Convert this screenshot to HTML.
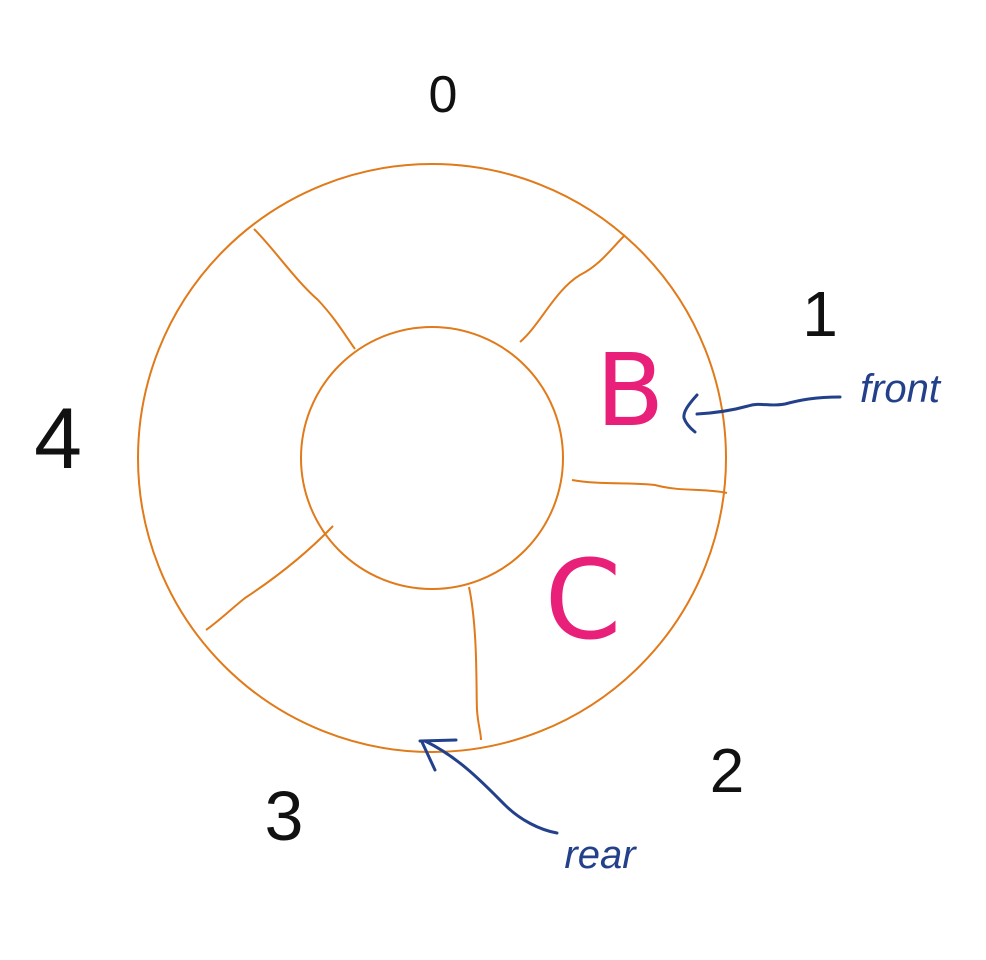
<!DOCTYPE html>
<html>
<head>
<meta charset="utf-8">
<style>
  html,body{margin:0;padding:0;background:#fff;}
  svg{display:block;}
  .num{font-family:"Liberation Sans",sans-serif;font-weight:300;fill:#111;}
  .hand{font-family:"Liberation Sans",sans-serif;}
</style>
</head>
<body>
<svg width="986" height="960" viewBox="0 0 986 960" xmlns="http://www.w3.org/2000/svg">
  <g fill="none" stroke="#e07a1a" stroke-width="2">
    <circle cx="432" cy="458" r="294"/>
    <circle cx="432" cy="458" r="131"/>
    <path d="M254 229 C275 250 295 280 318 300 C335 318 345 335 355 349"/>
    <path d="M625 235 C610 250 600 265 580 275 C555 290 540 325 520 342"/>
    <path d="M572 480 C600 485 630 482 655 485 C680 492 705 488 727 493"/>
    <path d="M469 587 C478 630 476 690 477 710 C478 725 481 733 481 740"/>
    <path d="M333 526 C310 550 280 575 245 598 C230 610 220 620 206 630"/>
  </g>
  <text class="num" x="443" y="112" font-size="52" text-anchor="middle">0</text>
  <text class="num" x="820" y="336" font-size="64" text-anchor="middle">1</text>
  <text class="num" x="727" y="792" font-size="62" text-anchor="middle">2</text>
  <text class="num" x="284" y="840" font-size="70" text-anchor="middle">3</text>
  <text class="num" x="58" y="468" font-size="86" text-anchor="middle">4</text>

  <text x="630" y="425" font-size="100" text-anchor="middle" fill="#e8207a" font-family="'DejaVu Sans',sans-serif">B</text>
  <text x="583" y="638" font-size="110" text-anchor="middle" fill="#e8207a" font-family="'DejaVu Sans',sans-serif">C</text>

  <g fill="none" stroke="#23408a" stroke-width="3" stroke-linecap="round">
    <path d="M840 397 C815 397 800 400 785 404 C770 407 760 402 748 406 C730 411 715 413 697 414"/>
    <path d="M697 395 C688 405 683 412 684 418 C686 424 690 428 695 432"/>
  </g>
  <text class="hand" x="900" y="402" font-size="40" text-anchor="middle" fill="#23408a" font-style="italic">front</text>

  <g fill="none" stroke="#23408a" stroke-width="3" stroke-linecap="round">
    <path d="M557 833 C540 830 520 820 505 805 C485 785 460 758 425 741"/>
    <path d="M420 741 L456 740"/>
    <path d="M422 742 L435 770"/>
  </g>
  <text class="hand" x="600" y="868" font-size="40" text-anchor="middle" fill="#23408a" font-style="italic">rear</text>
</svg>
</body>
</html>
